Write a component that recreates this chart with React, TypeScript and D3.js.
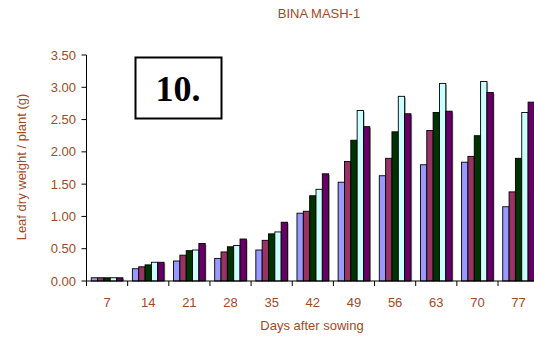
import React from 'react';
import * as d3 from 'd3';

// days after sowing
const days = ['7', '14', '21', '28', '35', '42', '49', '56', '63', '70', '77'];
const seriesKeys = ['s1', 's2', 's3', 's4', 's5'];
const s1 = [0.05, 0.19, 0.31, 0.35, 0.48, 1.05, 1.53, 1.63, 1.80, 1.84, 1.15];
const s2 = [0.05, 0.22, 0.40, 0.45, 0.63, 1.08, 1.85, 1.90, 2.33, 1.93, 1.38];
const s3 = [0.05, 0.25, 0.47, 0.53, 0.73, 1.32, 2.18, 2.31, 2.61, 2.25, 1.90];
const s4 = [0.05, 0.29, 0.48, 0.55, 0.76, 1.42, 2.64, 2.86, 3.06, 3.09, 2.61];
const s5 = [0.05, 0.29, 0.58, 0.65, 0.91, 1.66, 2.39, 2.59, 2.63, 2.92, 2.77];
const seriesValues = [s1, s2, s3, s4, s5];
const colors = ['#9999FF', '#993366', '#003300', '#CCFFFF', '#660066'];
const yTicks = [0, 0.5, 1, 1.5, 2, 2.5, 3, 3.5];

const brown = '#A04A1E';
const font = 'Liberation Sans, Arial, sans-serif';

export default function App() {
  const left = 86.5;
  const step = 41.15;
  const top = 55;
  const bottom = 281;

  const x0 = d3.scaleBand<string>()
    .domain(days)
    .range([left, left + step * days.length])
    .paddingInner(0.23)
    .paddingOuter(0.115);
  const x1 = d3.scaleBand<string>()
    .domain(seriesKeys)
    .range([0, x0.bandwidth()]);
  const y = d3.scaleLinear().domain([0, 3.5]).range([bottom, top]);

  return (
    <svg width={534} height={339} style={{ position: 'absolute', left: 0, top: 0, background: '#fff' }}>
      <text x={319} y={18} textAnchor="middle" fontFamily={font} fontSize={13} fill={brown}>BINA MASH-1</text>

      {/* y axis */}
      <line x1={left} x2={left} y1={top} y2={bottom} stroke="#000" />
      {yTicks.map(t => (
        <g key={t}>
          <line x1={left - 5} x2={left} y1={y(t)} y2={y(t)} stroke="#000" />
          <text x={76} y={y(t)} dy="0.35em" textAnchor="end" fontFamily={font} fontSize={13} fill={brown}>{t.toFixed(2)}</text>
        </g>
      ))}
      <text transform={`translate(26,${(top + bottom) / 2 - 1}) rotate(-90)`} textAnchor="middle" fontFamily={font} fontSize={13} fill={brown}>
        Leaf dry weight / plant (g)
      </text>

      {/* bars */}
      {days.map((d, i) => (
        <g key={d} transform={`translate(${x0(d)},0)`}>
          {seriesKeys.map((k, j) => {
            const v = seriesValues[j][i];
            const bx = x1(k) as number;
            const bw = x1.bandwidth();
            return (
              <g key={k}>
                <rect x={bx + 1.2} y={y(v) + 1.2} width={bw} height={bottom - y(v) - 1.2} fill="#a8a8a8" />
                <rect x={bx} y={y(v)} width={bw} height={bottom - y(v)} fill={colors[j]} stroke="#000" strokeWidth={0.9} />
              </g>
            );
          })}
        </g>
      ))}

      {/* x axis */}
      <line x1={left} x2={534} y1={bottom} y2={bottom} stroke="#000" />
      {d3.range(days.length + 1).map(i => (
        <line key={i} x1={left + i * step} x2={left + i * step} y1={bottom} y2={bottom + 5} stroke="#000" />
      ))}
      {days.map(d => (
        <text key={d} x={(x0(d) as number) + x0.bandwidth() / 2} y={306.5} textAnchor="middle" fontFamily={font} fontSize={13} fill={brown}>{d}</text>
      ))}
      <text x={312} y={330} textAnchor="middle" fontFamily={font} fontSize={13} fill={brown}>Days after sowing</text>

      {/* panel label */}
      <rect x={135.5} y={57.5} width={86} height={61} fill="#fff" stroke="#000" strokeWidth={2} />
      <text x={178} y={101} textAnchor="middle" fontFamily="Liberation Serif, Times New Roman, serif" fontWeight="bold" fontSize={36} fill="#000">10.</text>
    </svg>
  );
}
